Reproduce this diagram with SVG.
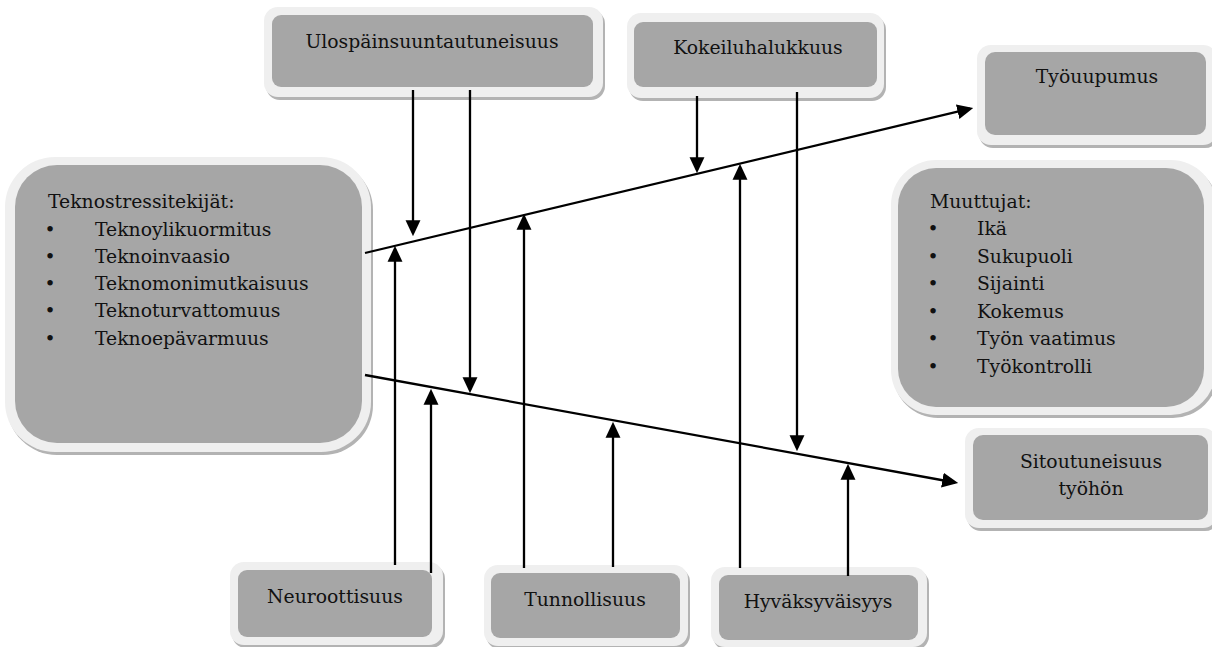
<svg xmlns="http://www.w3.org/2000/svg" width="1212" height="647" viewBox="0 0 1212 647">
<defs>
<style>
.sh{fill:#b3b3b3}
.out{fill:#efefef}
.in{fill:#a6a6a6}
text{font-family:"DejaVu Serif","Liberation Serif",serif;font-size:18.8px;fill:#111}
.c{text-anchor:middle}
.b{text-anchor:middle}
.ln{stroke:#000;stroke-width:2.3;fill:none;marker-end:url(#ah)}
</style>
<marker id="ah" markerUnits="userSpaceOnUse" markerWidth="16" markerHeight="16" viewBox="0 0 15 14" refX="12" refY="7" orient="auto">
<path d="M0,0 L15,7 L0,14 z" fill="#000"/>
</marker>
</defs>
<rect width="1212" height="647" fill="#fff"/>

<g id="ulospainsuuntautuneisuus">
<rect class="sh" x="266" y="10" width="339" height="90" rx="14"/>
<rect class="out" x="264" y="7" width="339" height="90" rx="14"/>
<rect class="in" x="272" y="15" width="321" height="72" rx="9"/>
<text class="c" x="432" y="48">Ulospäinsuuntautuneisuus</text>
</g>

<g id="kokeiluhalukkuus">
<rect class="sh" x="629" y="16" width="257" height="85" rx="14"/>
<rect class="out" x="627" y="13" width="257" height="85" rx="14"/>
<rect class="in" x="634" y="22" width="243" height="65" rx="9"/>
<text class="c" x="758" y="54">Kokeiluhalukkuus</text>
</g>

<g id="tyouupumus">
<rect class="sh" x="979" y="48" width="240" height="100" rx="14"/>
<rect class="out" x="977" y="45" width="240" height="100" rx="14"/>
<rect class="in" x="985" y="52" width="221" height="83" rx="10"/>
<text class="c" x="1097" y="83">Työuupumus</text>
</g>

<g id="teknostressitekijat">
<rect class="sh" x="7" y="160" width="366" height="295" rx="50"/>
<rect class="out" x="5" y="157" width="366" height="295" rx="50"/>
<rect class="in" x="15" y="165" width="347" height="278" rx="42"/>
<text x="48" y="208">Teknostressitekijät:</text>
<text class="b" x="50" y="236">•</text><text x="95" y="236">Teknoylikuormitus</text>
<text class="b" x="50" y="263">•</text><text x="95" y="263">Teknoinvaasio</text>
<text class="b" x="50" y="290">•</text><text x="95" y="290">Teknomonimutkaisuus</text>
<text class="b" x="50" y="317">•</text><text x="95" y="317">Teknoturvattomuus</text>
<text class="b" x="50" y="345">•</text><text x="95" y="345">Teknoepävarmuus</text>
</g>

<g id="muuttujat">
<rect class="sh" x="893" y="163" width="325" height="255" rx="45"/>
<rect class="out" x="891" y="160" width="325" height="255" rx="45"/>
<rect class="in" x="898" y="168" width="306" height="239" rx="38"/>
<text x="930" y="208">Muuttujat:</text>
<text class="b" x="933" y="235">•</text><text x="977" y="235">Ikä</text>
<text class="b" x="933" y="263">•</text><text x="977" y="263">Sukupuoli</text>
<text class="b" x="933" y="290">•</text><text x="977" y="290">Sijainti</text>
<text class="b" x="933" y="318">•</text><text x="977" y="318">Kokemus</text>
<text class="b" x="933" y="345">•</text><text x="977" y="345">Työn vaatimus</text>
<text class="b" x="933" y="373">•</text><text x="977" y="373">Työkontrolli</text>
</g>

<g id="sitoutuneisuus">
<rect class="sh" x="967" y="431" width="252" height="100" rx="14"/>
<rect class="out" x="965" y="428" width="252" height="100" rx="14"/>
<rect class="in" x="973" y="435" width="235" height="85" rx="10"/>
<text class="c" x="1091" y="468">Sitoutuneisuus</text>
<text class="c" x="1091" y="495">työhön</text>
</g>

<g id="neuroottisuus">
<rect class="sh" x="232" y="565" width="213" height="83" rx="14"/>
<rect class="out" x="230" y="562" width="213" height="83" rx="14"/>
<rect class="in" x="238" y="570" width="194" height="67" rx="9"/>
<text class="c" x="335" y="603">Neuroottisuus</text>
</g>

<g id="tunnollisuus">
<rect class="sh" x="486" y="568" width="204" height="81" rx="14"/>
<rect class="out" x="484" y="565" width="204" height="81" rx="14"/>
<rect class="in" x="491" y="573" width="189" height="65" rx="9"/>
<text class="c" x="585" y="606">Tunnollisuus</text>
</g>

<g id="hyvaksyvaisyys">
<rect class="sh" x="713" y="570" width="216" height="80" rx="14"/>
<rect class="out" x="711" y="567" width="216" height="80" rx="14"/>
<rect class="in" x="719" y="575" width="199" height="65" rx="9"/>
<text class="c" x="818" y="608">Hyväksyväisyys</text>
</g>

<g id="connectors">
<path class="ln" d="M365 253 L970.1 108.7"/>
<path class="ln" d="M365 375 L955 482.5"/>
<path class="ln" d="M413 90 L413 233"/>
<path class="ln" d="M470 90 L470 390"/>
<path class="ln" d="M697 96 L697 170"/>
<path class="ln" d="M797 92 L797 448"/>
<path class="ln" d="M395 565 L395 249"/>
<path class="ln" d="M431 573 L431 392"/>
<path class="ln" d="M524 568 L524 217"/>
<path class="ln" d="M613 567 L613 425"/>
<path class="ln" d="M740 568 L740 167"/>
<path class="ln" d="M848 576 L848 467"/>
</g>
</svg>
